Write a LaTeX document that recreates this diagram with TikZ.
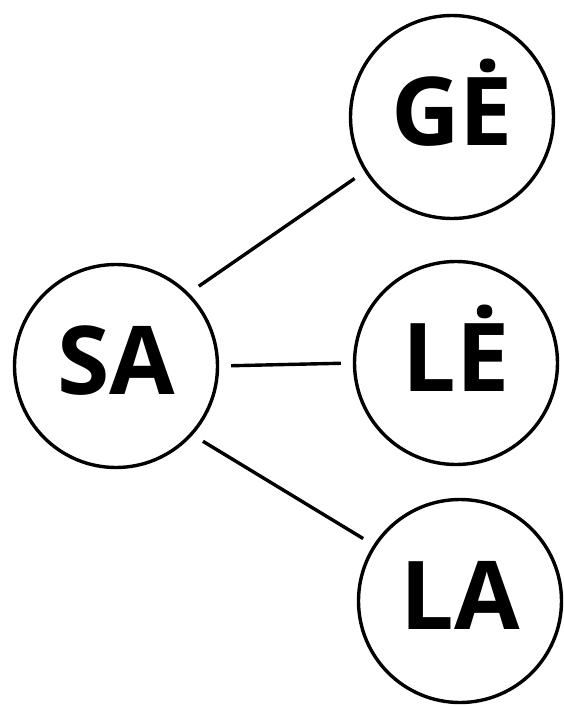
\documentclass[tikz,border=0pt]{standalone}
\usepackage{fontspec}
\setmainfont{Open Sans}

\begin{document}
\begin{tikzpicture}[x=1pt, y=-1pt, syllable/.style={draw, circle, line width=3.4pt, minimum size=203pt, inner sep=0pt, font=\fontsize{95}{95}\selectfont\bfseries, text height=68pt, text depth=12pt}, link/.style={line width=3.4pt, shorten <=12pt, shorten >=12pt}]
        \useasboundingbox (0,0) rectangle (564,707);
        \node[syllable] (SA) at (116,366) {SA};
        \node[syllable] (GE) at (452,117) {GĖ};
        \node[syllable] (LE) at (456,363) {LĖ};
        \node[syllable] (LA) at (460,601) {LA};
        \draw[link] (SA.45) -- (GE.212);
        \draw[link] (SA.0) -- (LE.180);
        \draw[link] (SA.-42) -- (LA.147);
      \end{tikzpicture}
\end{document}
